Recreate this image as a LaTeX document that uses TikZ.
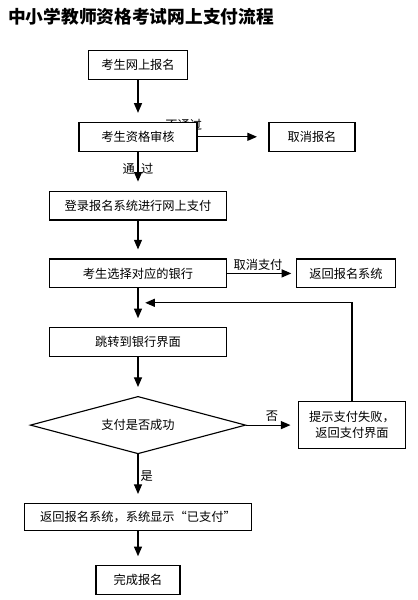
\documentclass[tikz,border=0pt]{standalone}
\usepackage{fontspec}
\setmainfont{Noto Sans CJK SC}
\usetikzlibrary{shapes.geometric,arrows.meta,positioning,calc,backgrounds}

\begin{document}
\begin{tikzpicture}[
    node distance=1cm,
    stepbox/.style={rectangle, draw=black, thick, fill=white, minimum height=0.72cm, inner sep=2pt, outer sep=0pt, font=\fontsize{8.7}{11}\selectfont, align=center},
    decision/.style={diamond, draw=black, thick, fill=white, aspect=3.8, inner sep=0pt, outer sep=0pt, minimum width=5.375cm, minimum height=1.425cm, font=\fontsize{8.7}{11}\selectfont},
    arrow/.style={-{Triangle[length=2.4mm, width=2mm]}, thick, shorten >=2.4mm},
    lbl/.style={font=\fontsize{8.7}{11}\selectfont, inner sep=1.5pt},
]
\useasboundingbox (0,0) rectangle (10.45,-15);

% Title
\node[anchor=west, font=\fontsize{12.6}{14}\selectfont\bfseries] (title) at (0.08,-0.42) {中小学教师资格考试网上支付流程};

% Main column
\node[stepbox, minimum width=2.475cm] (signup) at (3.45,-1.625) {考生网上报名};
\node[stepbox, minimum width=2.95cm, below=1.075cm of signup] (review) {考生资格审核};
\node[stepbox, minimum width=4.425cm, below=1.0cm of review] (login) {登录报名系统进行网上支付};
\node[stepbox, minimum width=4.425cm, below=0.975cm of login] (bank) {考生选择对应的银行};
\node[stepbox, minimum width=4.425cm, below=1.0cm of bank] (jump) {跳转到银行界面};
\node[decision, below=1.0cm of jump] (paid) {支付是否成功};
\node[stepbox, minimum width=5.675cm, minimum height=0.68cm, below=1.25cm of paid] (shown) {返回报名系统，系统显示“已支付”};
\node[stepbox, minimum width=2.1cm, below=0.875cm of shown] (done) {完成报名};

% Side boxes
\node[stepbox, minimum width=2.15cm, right=1.8cm of review] (cancel) {取消报名};
\node[stepbox, minimum width=2.475cm, right=1.75cm of bank] (back) {返回报名系统};
\node[stepbox, minimum width=2.675cm, minimum height=1.175cm, right=1.325cm of paid] (fail) {提示支付失败，\\返回支付界面};

% Label hidden behind the review box
\begin{scope}[on background layer]
\node[lbl] (nopass) at ($(review.north east)+(-0.33,-0.07)$) {不通过};
\end{scope}

% Connections
\draw[arrow] (signup) -- (review);
\draw[arrow] (review) -- node[lbl, pos=0.45] {通\hspace{1.6mm}过} (login);
\draw[arrow] (login) -- (bank);
\draw[arrow] (bank) -- (jump);
\draw[arrow] (jump) -- (paid);
\draw[arrow] (paid) -- node[lbl, right, pos=0.45] {是} (shown);
\draw[arrow] (shown) -- (done);

\draw[arrow, shorten >=3mm] (review) -- (cancel);
\draw[arrow, shorten >=1.3mm] (bank.east) -- node[lbl, above, pos=0.45] {取消支付} (back);
\draw[arrow, shorten >=2mm] (paid.east) -- node[lbl, above, yshift=1pt] {否} (fail);

% Loop back to the bank page
\coordinate (loopend) at ($(bank.south)+(0,-0.375)$);
\draw[arrow, shorten >=1.8mm] (fail.north) |- (loopend);

\end{tikzpicture}
\end{document}
